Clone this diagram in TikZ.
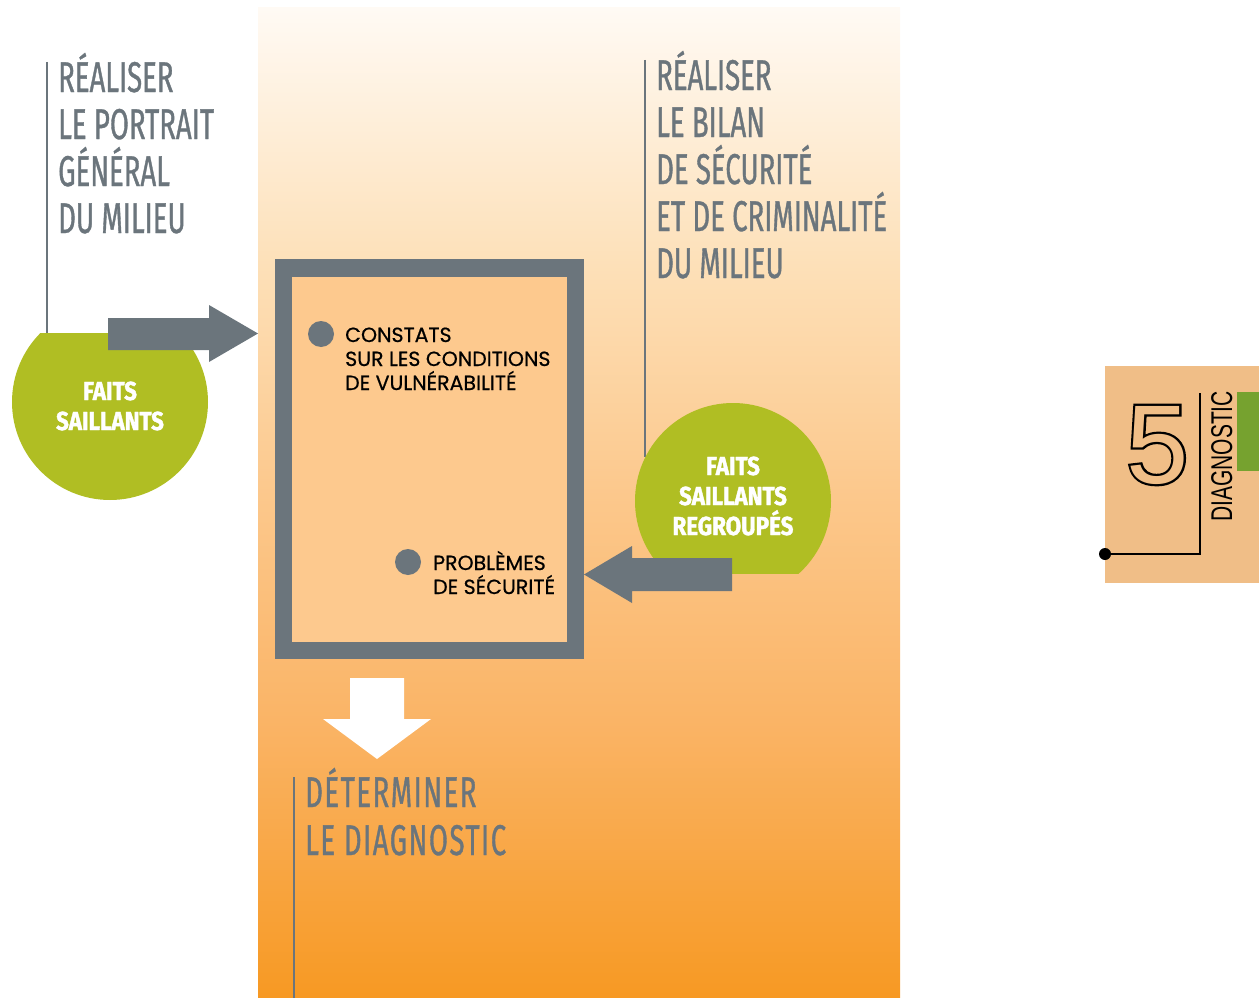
\documentclass[tikz,border=0pt]{standalone}
\usepackage{fontspec}
\newfontfamily\headfont[FakeStretch=0.64,FakeBold=0.8]{Fira Sans}
\newfontfamily\headwide[FakeStretch=0.64,FakeBold=0.8,LetterSpace=3.5]{Fira Sans}
\newfontfamily\pillfont[FakeStretch=0.86,BoldFeatures={FakeBold=1.5}]{Fira Sans}
\newfontfamily\itemfont[FakeBold=0.6]{Poppins}
\newfontfamily\tabfont[FakeStretch=0.7]{Liberation Sans}
\newfontfamily\numfont{Liberation Sans}
\newfontfamily\numline[FakeBold=4]{Liberation Sans}

\definecolor{slate}{RGB}{107,117,124}
\definecolor{leaf}{RGB}{176,190,35}
\definecolor{boxfill}{RGB}{253,201,142}
\definecolor{tabfill}{RGB}{240,190,135}
\definecolor{tabgreen}{RGB}{118,162,47}
\definecolor{bgA}{RGB}{255,250,244}
\definecolor{bgB}{RGB}{253,224,184}
\definecolor{bgC}{RGB}{252,201,142}
\definecolor{bgD}{RGB}{250,180,102}
\definecolor{bgE}{RGB}{247,153,35}

% TikZ maps a path onto the band 25bp--75bp of a 100bp shading
\pgfdeclareverticalshading{panel}{100bp}{color(0bp)=(bgE); color(25bp)=(bgE);
  color(39bp)=(bgD); color(51bp)=(bgC); color(62bp)=(bgB); color(75bp)=(bgA); color(100bp)=(bgA)}

\tikzset{
  heading/.style={anchor=base west, align=left, inner sep=0pt, text=slate,
    font=\headfont\fontsize{43}{47}\selectfont},
  pill/.style={circle, fill=leaf, minimum size=196pt, inner sep=0pt},
  pilltext/.style={align=center, inner sep=0pt, text=white,
    font=\pillfont\bfseries\fontsize{26}{30}\selectfont},
  dot/.style={circle, fill=slate, minimum size=26pt, inner sep=0pt},
  itemtext/.style={anchor=base west, align=left, inner sep=0pt, text=black,
    font=\itemfont\fontsize{20.5}{24}\selectfont},
  rule/.style={draw=slate, line width=2.5pt},
  blockarrow/.style={fill=slate},
}

\begin{document}
\begin{tikzpicture}[x=1pt, y=-1pt]
\useasboundingbox (0,0) rectangle (1259,998);

% shaded central panel
\shade[shading=panel] (258,8) rectangle (900,998);

% left column: portrait of the area
\draw[rule] (47,62) -- (47,333);
\node[heading] (portrait) at (58,233) {RÉALISER\\LE PORTRAIT\\GÉNÉRAL\\DU MILIEU};
\begin{scope}
  \clip (0,333) rectangle (258,520);
  \node[pill] (pillL) at (110,402) {};
\end{scope}
\node[pilltext] (pillLtext) at (110,406) {FAITS\\SAILLANTS};
\fill[blockarrow] (108,318) -- (209,318) -- (209,305) -- (258,333.5)
  -- (209,362) -- (209,350) -- (108,350) -- cycle;

% central frame with findings
\node[draw=slate, line width=17.5pt, fill=boxfill, minimum width=292pt,
  minimum height=382.5pt, inner sep=0pt] (frame) at (429.5,459.25) {};
\node[dot] (dotA) at (321,334) {};
\node[itemtext] (constats) at (345,390) {CONSTATS\\SUR LES CONDITIONS\\DE VULNÉRABILITÉ};
\node[dot] (dotB) at (408,562) {};
\node[itemtext] (problemes) at (433,594) {PROBLÈMES\\DE SÉCURITÉ};

% right column: safety and crime review
\draw[rule] (645,60) -- (645,457);
\node[heading] (bilan) at (656,278) {RÉALISER\\LE BILAN\\DE SÉCURITÉ\\ET DE CRIMINALITÉ\\DU MILIEU};
\begin{scope}
  \clip (600,380) rectangle (880,573);
  \node[pill] (pillR) at (733,501) {};
\end{scope}
\node[pilltext] (pillRtext) at (733,496) {FAITS\\SAILLANTS\\REGROUPÉS};
\fill[blockarrow] (732,558) -- (632,558) -- (632,546) -- (584,574.5)
  -- (632,603) -- (632,591) -- (732,591) -- cycle;

% outcome
\fill[white] (350,678) -- (404,678) -- (404,719) -- (431,719) -- (377,759)
  -- (323,719) -- (350,719) -- cycle;
\draw[rule] (294,777) -- (294,998);
\node[heading, font=\headwide\fontsize{43}{48}\selectfont] (diagnostic) at (305,855)
  {DÉTERMINER\\LE DIAGNOSTIC};

% step tab
\fill[tabfill] (1105,366) rectangle (1259,583);
\fill[tabgreen] (1237,392) rectangle (1259,471);
% outlined step number: emboldened dark glyph under a plain glyph in the tab colour
\node[anchor=base west, inner sep=0pt, font=\numline\fontsize{112}{112}\selectfont] (stepnumline)
  at (1126,483) {5};
\node[anchor=base west, inner sep=0pt, text=tabfill, font=\numfont\fontsize{112}{112}\selectfont]
  (stepnum) at (1126,483) {5};
\node[anchor=base west, rotate=90, inner sep=0pt, font=\tabfont\fontsize{30}{30}\selectfont]
  (steplabel) at (1232,522) {DIAGNOSTIC};
\node[circle, fill=black, minimum size=12pt, inner sep=0pt] (tabdot) at (1105,554) {};
\draw[line width=1.3pt] (tabdot.center) -- (1200,554) -- (1200,393);
\end{tikzpicture}
\end{document}
